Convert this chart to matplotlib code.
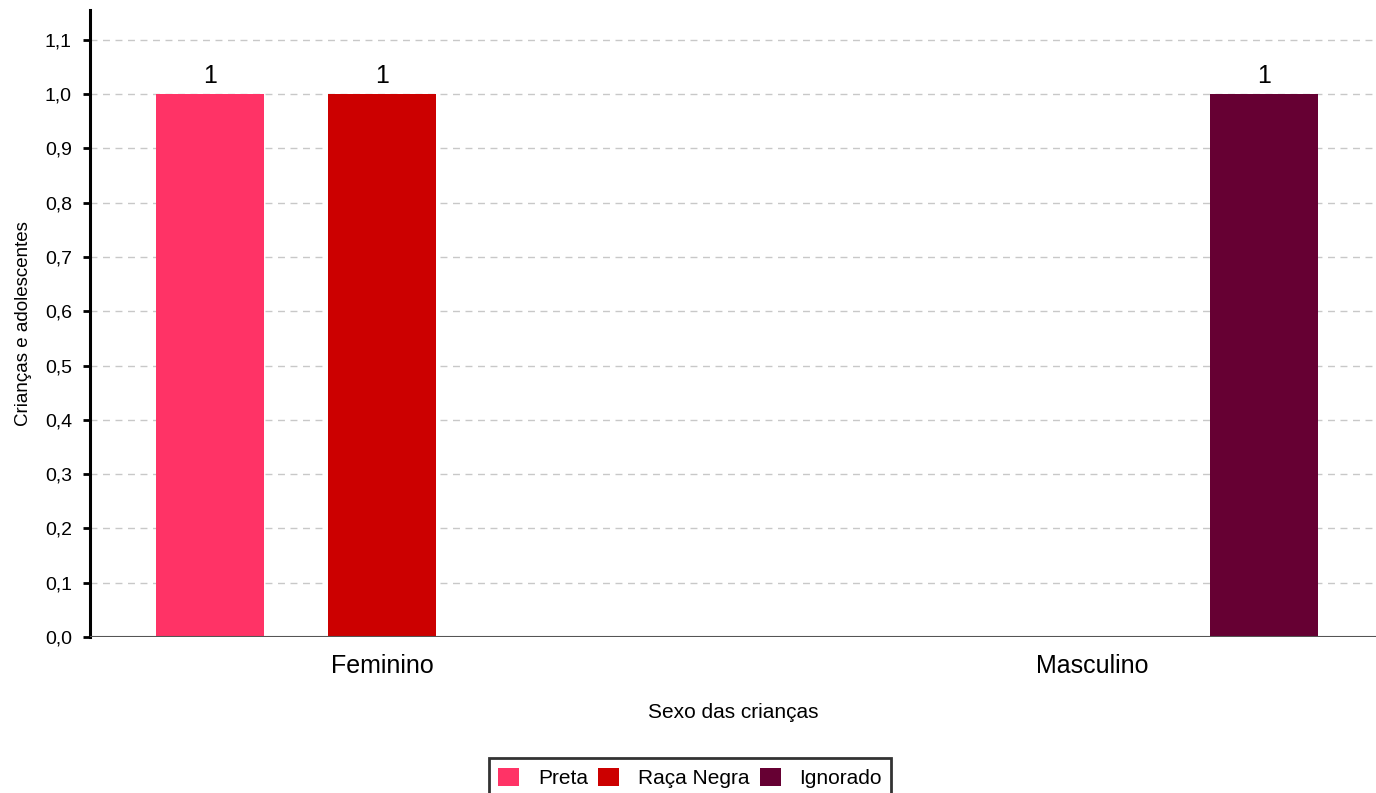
import numpy as np
import matplotlib
import matplotlib.pyplot as plt
from matplotlib.patches import Patch

matplotlib.rc('font', family=['Liberation Sans', 'DejaVu Sans'])

groups = ['Feminino', 'Masculino']
series = ['Preta', 'Raça Negra', 'Ignorado']
values = {
    'Preta': [1, 0],
    'Raça Negra': [1, 0],
    'Ignorado': [0, 1],
}
colors = ['#FF3366', '#CC0000', '#660033']
yticks = [0.0, 0.1, 0.2, 0.3, 0.4, 0.5, 0.6, 0.7, 0.8, 0.9, 1.0, 1.1]

fig = plt.figure(figsize=(13.76, 7.93), dpi=100)
ax = fig.add_axes([0.0654, 0.1967, 0.9346, 0.7907])

x = np.arange(len(groups))
width = 0.152
step = 0.2423
for i, (s, c) in enumerate(zip(series, colors)):
    xs = x + (i - 1) * step
    vals = values[s]
    ax.bar(xs, vals, width, color=c, zorder=3)
    for xi, v in zip(xs, vals):
        if v > 0:
            ax.text(xi, v + 0.012, str(v), ha='center', va='bottom', fontsize=18)

ax.set_xlim(-0.4113, 1.4)
ax.set_ylim(0, 1.155)
ax.set_yticks(yticks)
ax.set_yticklabels([f"{t:.1f}".replace('.', ',') for t in yticks], fontsize=14)
ax.set_xticks(x)
ax.set_xticklabels(groups, fontsize=18)
ax.tick_params(axis='x', length=0, pad=12)
ax.tick_params(axis='y', length=5, width=2, direction='out', pad=8)
ax.grid(axis='y', color='#c8c8c8', linestyle=(0, (5, 4)), linewidth=1, zorder=0)
ax.axhline(0, color='#555555', linewidth=1.5, zorder=4)

for side in ['top', 'right', 'bottom']:
    ax.spines[side].set_visible(False)
ax.spines['left'].set_linewidth(2.2)

ax.set_xlabel('Sexo das crianças', fontsize=15, labelpad=18)
ax.set_ylabel('Crianças e adolescentes', fontsize=13.5, labelpad=9)

handles = [Patch(facecolor=c, label=s) for s, c in zip(series, colors)]
leg = fig.legend(handles=handles, loc='upper center', bbox_to_anchor=(0.5015, 0.057),
                 ncol=3, fontsize=15, frameon=True, fancybox=False,
                 handlelength=1.0, handleheight=1.0, handletextpad=0.9,
                 columnspacing=0.5, borderpad=0.45)
leg.get_frame().set_edgecolor('black')
leg.get_frame().set_linewidth(2)

fig.savefig('out.png')
